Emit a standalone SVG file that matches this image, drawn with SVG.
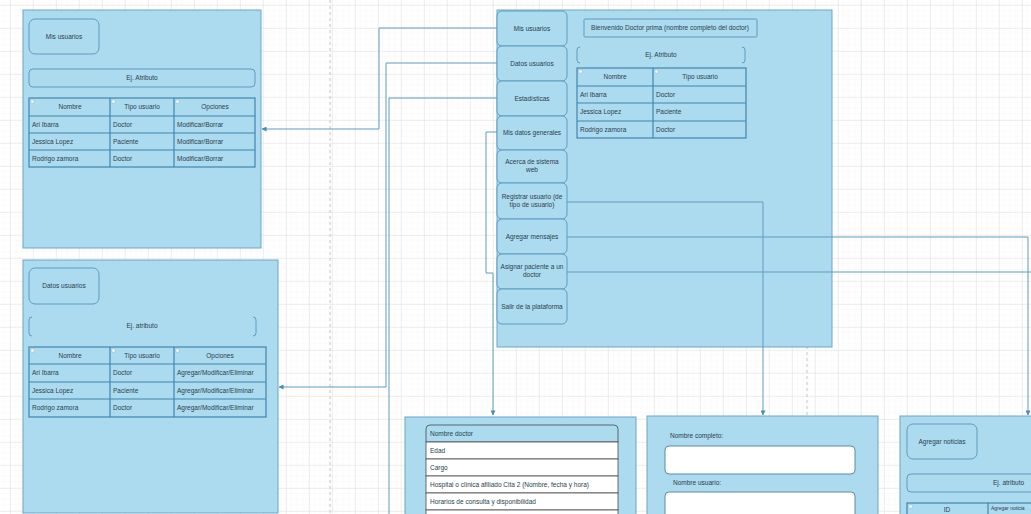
<svg xmlns="http://www.w3.org/2000/svg" width="1031" height="514" viewBox="0 0 1031 514">
<defs>
<pattern id="minor" width="5.75" height="5.75" patternUnits="userSpaceOnUse" x="10" y="5">
<path d="M5.75 0V5.75H0" fill="none" stroke="#f2f2f2" stroke-width="0.6"/>
</pattern>
<pattern id="major" width="23" height="23" patternUnits="userSpaceOnUse" x="10" y="5">
<path d="M0 0V23M0 0H23" fill="none" stroke="#e2e2e2" stroke-width="1"/>
</pattern>
<marker id="arr" viewBox="0 0 6 6" refX="5.5" refY="3" markerWidth="5" markerHeight="5" orient="auto" markerUnits="userSpaceOnUse">
<path d="M0,0L6,3L0,6z" fill="#4a8cb4"/>
</marker>
<style>
.panel{fill:#acdaef;stroke:#6aa6c8;stroke-width:1}
.btn{fill:#acdaef;stroke:#5d9cc1;stroke-width:1}
.bar{fill:#acdaef;stroke:#5d9cc1;stroke-width:1}
.brk{fill:none;stroke:#5d9cc1;stroke-width:1}
.tbl{fill:none;stroke:#3f86b0;stroke-width:1.2}
.chk{fill:#ffffff;stroke:#9bbccf;stroke-width:0.5}
.wrow{fill:#ffffff;stroke:#4a4a4a;stroke-width:0.8}
.inp{fill:#ffffff;stroke:#5d8aa5;stroke-width:1}
.t{font-family:"Liberation Sans",Arial,sans-serif;font-size:6.5px;fill:#2a3f4d}
.s{font-size:5px}
.c{text-anchor:middle}
.conn{fill:none;stroke:#5e9dc2;stroke-width:1}
.dash{fill:none;stroke:#c4c4c4;stroke-width:1;stroke-dasharray:3 3}
</style>
</defs>
<rect width="1031" height="514" fill="#ffffff"/>
<rect width="1031" height="514" fill="url(#minor)"/>
<rect width="1031" height="514" fill="url(#major)"/>
<path class="dash" d="M330 0V514"/>
<path class="dash" d="M807 340V420"/>

<g id="panel-mis-usuarios">
<rect class="panel" x="23" y="10" width="238" height="238"/>
<rect class="btn" x="29" y="19" width="70" height="35" rx="6"/>
<text class="t c" x="64" y="39">Mis usuarios</text>
<rect class="bar" x="29" y="69" width="226" height="18" rx="4"/>
<text class="t c" x="142" y="80">Ej. Atributo</text>
<rect class="tbl" x="29" y="98" width="226" height="69"/>
<path class="tbl" d="M110 98V167M174 98V167M29 116H255M29 133H255M29 150H255"/>
<rect class="chk" x="31" y="100" width="3" height="3"/>
<rect class="chk" x="112" y="100" width="3" height="3"/>
<rect class="chk" x="176" y="100" width="3" height="3"/>
<text class="t c" x="70" y="109">Nombre</text>
<text class="t c" x="142" y="109">Tipo usuario</text>
<text class="t c" x="215" y="109">Opciones</text>
<text class="t" x="32" y="127">Ari Ibarra</text>
<text class="t" x="113" y="127">Doctor</text>
<text class="t" x="177" y="127">Modificar/Borrar</text>
<text class="t" x="32" y="144">Jessica Lopez</text>
<text class="t" x="113" y="144">Paciente</text>
<text class="t" x="177" y="144">Modificar/Borrar</text>
<text class="t" x="32" y="161">Rodrigo zamora</text>
<text class="t" x="113" y="161">Doctor</text>
<text class="t" x="177" y="161">Modificar/Borrar</text>
</g>

<g id="panel-datos-usuarios">
<rect class="panel" x="23" y="260" width="255" height="253"/>
<rect class="btn" x="29" y="268" width="70" height="36" rx="6"/>
<text class="t c" x="64" y="288">Datos usuarios</text>
<path class="brk" d="M32 317Q29 317 29 320V333Q29 336 32 336M253 317Q256 317 256 320V333Q256 336 253 336"/>
<text class="t c" x="142" y="328">Ej. atributo</text>
<rect class="tbl" x="29" y="347" width="237" height="70"/>
<path class="tbl" d="M110 347V417M174 347V417M29 364H266M29 382H266M29 399H266"/>
<rect class="chk" x="31" y="349" width="3" height="3"/>
<rect class="chk" x="112" y="349" width="3" height="3"/>
<rect class="chk" x="176" y="349" width="3" height="3"/>
<text class="t c" x="70" y="358">Nombre</text>
<text class="t c" x="142" y="358">Tipo usuario</text>
<text class="t c" x="220" y="358">Opciones</text>
<text class="t" x="32" y="375">Ari Ibarra</text>
<text class="t" x="113" y="375">Doctor</text>
<text class="t" x="177" y="375">Agregar/Modificar/Eliminar</text>
<text class="t" x="32" y="393">Jessica Lopez</text>
<text class="t" x="113" y="393">Paciente</text>
<text class="t" x="177" y="393">Agregar/Modificar/Eliminar</text>
<text class="t" x="32" y="410">Rodrigo zamora</text>
<text class="t" x="113" y="410">Doctor</text>
<text class="t" x="177" y="410">Agregar/Modificar/Eliminar</text>
</g>

<g id="panel-principal">
<rect class="panel" x="497" y="10" width="335" height="337"/>
<rect class="btn" x="497" y="11" width="70" height="35" rx="5"/>
<text class="t c" x="532" y="31">Mis usuarios</text>
<rect class="btn" x="497" y="46" width="70" height="35" rx="5"/>
<text class="t c" x="532" y="66">Datos usuarios</text>
<rect class="btn" x="497" y="81" width="70" height="35" rx="5"/>
<text class="t c" x="532" y="101">Estadísticas</text>
<rect class="btn" x="497" y="116" width="70" height="34" rx="5"/>
<text class="t c" x="532" y="135">Mis datos generales</text>
<rect class="btn" x="497" y="150" width="70" height="33" rx="5"/>
<text class="t c" x="532" y="164">Acerca de sistema</text>
<text class="t c" x="532" y="172">web</text>
<rect class="btn" x="497" y="183" width="70" height="36" rx="5"/>
<text class="t c" x="532" y="199">Registrar usuario (de</text>
<text class="t c" x="532" y="207">tipo de usuario)</text>
<rect class="btn" x="497" y="219" width="70" height="35" rx="5"/>
<text class="t c" x="532" y="239">Agregar mensajes</text>
<rect class="btn" x="497" y="254" width="70" height="35" rx="5"/>
<text class="t c" x="532" y="269">Asignar paciente a un</text>
<text class="t c" x="532" y="277">doctor</text>
<rect class="btn" x="497" y="289" width="70" height="35" rx="5"/>
<text class="t c" x="532" y="309">Salir de la plataforma</text>
<rect class="bar" x="584" y="19" width="173" height="18" rx="1"/>
<text class="t c" x="670" y="30">Bienvenido Doctor prima (nombre completo del doctor)</text>
<path class="brk" d="M580 47Q577 47 577 50V60Q577 63 580 63M742 47Q745 47 745 50V60Q745 63 742 63"/>
<text class="t c" x="661" y="57">Ej. Atributo</text>
<rect class="tbl" x="577" y="68" width="169" height="70"/>
<path class="tbl" d="M653 68V138M577 86H746M577 103H746M577 121H746"/>
<rect class="chk" x="579" y="70" width="3" height="3"/>
<rect class="chk" x="655" y="70" width="3" height="3"/>
<text class="t c" x="615" y="79">Nombre</text>
<text class="t c" x="700" y="79">Tipo usuario</text>
<text class="t" x="580" y="97">Ari Ibarra</text>
<text class="t" x="656" y="97">Doctor</text>
<text class="t" x="580" y="114">Jessica Lopez</text>
<text class="t" x="656" y="114">Paciente</text>
<text class="t" x="580" y="132">Rodrigo zamora</text>
<text class="t" x="656" y="132">Doctor</text>
</g>

<g id="panel-datos-doctor">
<rect class="panel" x="405" y="417" width="231" height="120"/>
<path d="M426 442V429Q426 425 430 425H614Q618 425 618 429V442Z" fill="#acdaef" stroke="#4a4a4a" stroke-width="0.8"/>
<text class="t" x="430" y="436">Nombre doctor</text>
<rect class="wrow" x="426" y="442" width="192" height="17"/>
<text class="t" x="430" y="453">Edad</text>
<rect class="wrow" x="426" y="459" width="192" height="17"/>
<text class="t" x="430" y="470">Cargo</text>
<rect class="wrow" x="426" y="476" width="192" height="17"/>
<text class="t" x="430" y="487">Hospital o clínica afiliado Cita 2 (Nombre, fecha y hora)</text>
<rect class="wrow" x="426" y="493" width="192" height="17"/>
<text class="t" x="430" y="504">Horarios de consulta y disponibilidad</text>
<rect class="wrow" x="426" y="510" width="192" height="17"/>
</g>

<g id="panel-registrar-usuario">
<rect class="panel" x="647" y="416" width="231" height="120"/>
<text class="t" x="670" y="438">Nombre completo:</text>
<rect class="inp" x="665" y="446" width="190" height="28" rx="4"/>
<text class="t" x="673" y="485">Nombre usuario:</text>
<rect class="inp" x="665" y="492" width="190" height="40" rx="4"/>
</g>

<g id="panel-agregar-noticias">
<rect class="panel" x="900" y="416" width="160" height="120"/>
<rect class="btn" x="907" y="424" width="70" height="35" rx="6"/>
<text class="t c" x="942" y="444">Agregar noticias</text>
<rect class="bar" x="907" y="474" width="150" height="18" rx="4"/>
<text class="t" x="993" y="485">Ej. atributo</text>
<rect class="tbl" x="907" y="503" width="150" height="20"/>
<path class="tbl" d="M988 503V523"/>
<rect class="chk" x="909" y="505" width="3" height="3"/>
<text class="t c" x="947" y="512">ID</text>
<text class="t s" x="991" y="510">Agregar noticia</text>
</g>

<g id="connectors">
<path class="conn" d="M497 28H379V129H262" marker-end="url(#arr)"/>
<path class="conn" d="M497 63H386V387H279" marker-end="url(#arr)"/>
<path class="conn" d="M497 98H389V514"/>
<path class="conn" d="M497 132H486V273H493V415" marker-end="url(#arr)"/>
<path class="conn" d="M567 202H763V415" marker-end="url(#arr)"/>
<path class="conn" d="M567 237H1028V415" marker-end="url(#arr)"/>
<path class="conn" d="M567 272H1031"/>
</g>
</svg>
